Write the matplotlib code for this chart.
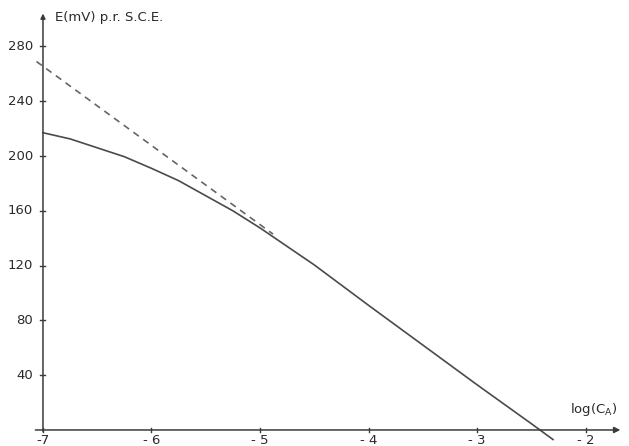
import numpy as np
import matplotlib.pyplot as plt

# valeurs
log_ca = [-7.0, -6.75, -6.5, -6.25, -6.0, -5.75, -5.5, -5.25, -5.0, -4.75,
          -4.5, -4.0, -3.5, -3.0, -2.5, -2.3]
e_mv = [217, 212.5, 206, 199.5, 191, 182, 171, 160, 147.5, 134,
        120.5, 91, 62, 33, 4.6, -7]

# droite de Nernst extrapolée (tirets)
log_nernst = [-7.06, -4.88]
e_nernst = [269, 143]

x_ticks = [-7, -6, -5, -4, -3, -2]
x_labels = ['-7', '- 6', '- 5', '- 4', '- 3', '- 2']
y_ticks = [40, 80, 120, 160, 200, 240, 280]

txt = '#2a2a2a'
ax_col = '#3a3a3a'

fig = plt.figure(figsize=(6.29, 4.46), dpi=100)
ax = fig.add_axes([0, 0, 1, 1])
ax.set_xlim(-7.396, -1.60)
ax.set_ylim(-11.7, 313.9)
ax.axis('off')

# axes avec flèches
ax.annotate('', xy=(-1.68, 0), xytext=(-7.07, 0),
            arrowprops=dict(arrowstyle='-|>', color=ax_col, lw=1.1,
                            mutation_scale=9, shrinkA=0, shrinkB=0))
ax.annotate('', xy=(-7.0, 304), xytext=(-7.0, -1),
            arrowprops=dict(arrowstyle='-|>', color=ax_col, lw=1.1,
                            mutation_scale=7, shrinkA=0, shrinkB=0))

# graduations
for xt, lab in zip(x_ticks, x_labels):
    ax.plot([xt, xt], [-1.2, 1.8], color=ax_col, lw=1)
    ax.text(xt, -7.5, lab, ha='center', va='center', fontsize=9.5, color=txt)
for yt in y_ticks:
    ax.plot([-7.03, -6.985], [yt, yt], color=ax_col, lw=1)
    ax.text(-7.09, yt, str(yt), ha='right', va='center', fontsize=9.5, color=txt)

# courbes
ax.plot(log_nernst, e_nernst, color='#666666', lw=1.2, ls=(0, (4, 3.2)))
ax.plot(log_ca, e_mv, color='#4a4a4a', lw=1.2)

ax.text(-6.89, 301, 'E(mV) p.r. S.C.E.', ha='left', va='center', fontsize=9.5, color=txt)
ax.text(-2.14, 15, 'log(C$_\\mathregular{A}$)', ha='left', va='center', fontsize=9.5, color=txt)

plt.savefig('out.png', dpi=100)
plt.close()
